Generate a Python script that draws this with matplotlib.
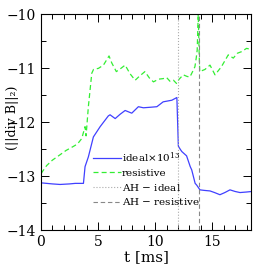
import matplotlib
matplotlib.use("Agg")
import matplotlib.pyplot as plt
from matplotlib.ticker import MultipleLocator

plt.rcParams["font.family"] = ["DejaVu Serif"]
plt.rcParams["mathtext.fontset"] = "dejavuserif"

# ideal run (scaled by 1e13), log10 of ||div B||_2
ideal_t = [0.0, 0.5, 1.0, 1.67, 2.5, 3.0, 3.57, 3.72, 3.86, 4.15, 4.59, 5.18,
           5.9, 6.05, 6.5, 6.93, 7.37, 7.95, 8.53, 8.97, 9.6, 10.15, 10.7,
           11.46, 11.9, 12.03, 12.2, 12.33, 12.75, 13.07, 13.2, 13.5, 13.63,
           13.92, 14.3, 14.8, 15.2, 15.67, 16.1, 16.55, 17.0, 17.43, 18.0, 18.45]
ideal_y = [-13.12, -13.13, -13.14, -13.15, -13.14, -13.13, -13.13, -13.13,
           -12.82, -12.64, -12.27, -12.08, -11.88, -11.86, -11.93, -11.85,
           -11.78, -11.83, -11.71, -11.73, -11.72, -11.71, -11.62, -11.59,
           -11.54, -12.44, -12.5, -12.54, -12.62, -12.82, -12.88, -13.13,
           -13.16, -13.25, -13.26, -13.27, -13.3, -13.34, -13.3, -13.25,
           -13.28, -13.3, -13.29, -13.28]

# resistive run
resis_t = [0.0, 0.02, 0.1, 0.5, 1.0, 1.67, 2.2, 2.8, 3.2, 3.57, 3.86, 3.95,
           4.15, 4.45, 4.6, 5.03, 5.47, 5.96, 6.2, 6.6, 7.0, 7.37, 7.8, 8.25,
           8.6, 9.1, 9.5, 9.85, 10.3, 10.7, 11.0, 11.3, 11.6, 11.87, 12.1,
           12.46, 12.8, 13.04, 13.3, 13.48, 13.6, 13.68, 13.77, 13.85, 13.9,
           14.36, 14.8, 15.24, 15.8, 16.4, 16.84, 17.2, 17.57, 18.0, 18.43]
resis_y = [-14.0, -12.95, -12.92, -12.8, -12.7, -12.6, -12.52, -12.45, -12.4,
           -12.3, -12.08, -12.25, -11.71, -11.09, -11.02, -11.0, -10.94,
           -10.77, -10.9, -11.06, -11.0, -10.94, -11.1, -11.22, -11.15, -11.06,
           -11.18, -11.25, -11.2, -11.19, -11.17, -11.24, -11.22, -11.28,
           -11.2, -11.12, -11.15, -11.16, -11.05, -10.97, -10.8, -10.66,
           -10.0, -10.7, -11.06, -11.02, -10.94, -11.12, -10.97, -10.75,
           -10.81, -10.72, -10.69, -10.63, -10.65]

t_ah_ideal = 12.0
t_ah_resis = 13.83

fig = plt.figure(figsize=(2.66, 2.66), dpi=100)
ax = fig.add_axes([0.154, 0.134, 0.79, 0.812])

ax.plot(ideal_t, ideal_y, color="#4040ff", lw=0.9, label=r"ideal$\times10^{13}$")
ax.plot(resis_t, resis_y, color="#33ee33", lw=0.9, ls=(0, (4, 2.5)), label="resistive")
ax.axvline(t_ah_ideal, color="#aaaaaa", lw=0.8, ls=":", label="AH $-$ ideal")
ax.axvline(t_ah_resis, color="#888888", lw=0.8, ls=(0, (4, 2.5)), label="AH $-$ resistive")

ax.set_xlim(0, 18.4)
ax.set_ylim(-14, -10)
ax.xaxis.set_major_locator(MultipleLocator(5))
ax.xaxis.set_minor_locator(MultipleLocator(1))
ax.yaxis.set_major_locator(MultipleLocator(1))
ax.yaxis.set_minor_locator(MultipleLocator(0.5))
ax.tick_params(which="both", direction="in", top=True, right=True, labelsize=10)
ax.tick_params(which="major", length=5.5, width=0.7)
ax.tick_params(which="minor", length=3.5, width=0.7)
for s in ax.spines.values():
    s.set_linewidth(0.8)

ax.set_xlabel("t [ms]", fontsize=11, labelpad=1)
ax.set_ylabel("(||div B||₂)", fontsize=9)
ax.yaxis.set_label_coords(-0.105, 0.52)

ax.legend(loc="upper left", bbox_to_anchor=(0.25, 0.37), frameon=False,
          fontsize=7.5, handlelength=2.6, handletextpad=0.1, borderpad=0,
          borderaxespad=0, labelspacing=0.35)

fig.savefig("out.png", dpi=100)
